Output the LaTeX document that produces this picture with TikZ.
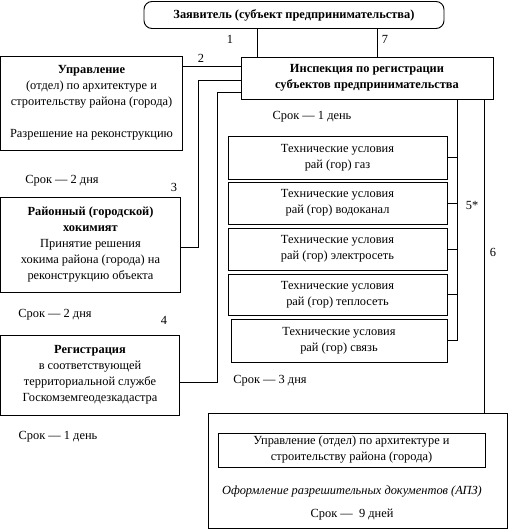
\documentclass[tikz,border=0pt]{standalone}
\usepackage{fontspec}
\setmainfont{Liberation Serif}
\usetikzlibrary{positioning}

\begin{document}
\begin{tikzpicture}[x=0.75pt, y=-0.75pt, line width=0.7pt,
  every node/.style={font=\fontsize{9.3}{12}\selectfont},
  box/.style={draw, align=center, inner sep=0pt},
  tech/.style={box, minimum width=164.25pt, minimum height=31.5pt},
  num/.style={inner sep=1pt}]
\useasboundingbox (0,0) rectangle (508,529);
%
\node[box, rounded corners=6pt, minimum width=225pt, minimum height=20.25pt] (appl) at (294,15)
  {\textbf{Заявитель (субъект предпринимательства)}};
\node[box, minimum width=189pt, minimum height=31.5pt] (insp) at (367,78)
  {\textbf{Инспекция по регистрации}\\ \textbf{субъектов предпринимательства}};
\node[box, minimum width=136.5pt, minimum height=70.5pt] (upr) at (91.5,103)
  {\textbf{Управление}\\ (отдел) по архитектуре и\\ строительству района (города)\\[12pt] Разрешение на реконструкцию};
\node[box, minimum width=135pt, minimum height=71.25pt] (hok) at (90.5,244.5)
  {\textbf{Районный (городской)}\\ \textbf{хокимият}\\ Принятие решения\\ хокима района (города) на\\ реконструкцию объекта};
\node[box, minimum width=134.25pt, minimum height=60pt] (reg) at (90,375)
  {\textbf{Регистрация}\\ в соответствующей\\ территориальной службе\\ Госкомземгеодезкадастра};
%
\node[tech, minimum height=32.25pt] (gas) at (337.5,157.5) {Технические условия\\ рай (гор) газ};
\node[tech] (water) at (337.5,203) {Технические условия\\ рай (гор) водоканал};
\node[tech] (elec) at (337.5,249) {Технические условия\\ рай (гор) электросеть};
\node[tech, minimum height=30.75pt] (heat) at (337.5,294.5) {Технические условия\\ рай (гор) теплосеть};
\node[tech, minimum width=162pt, minimum height=32.25pt] (comm) at (339,340.5) {Технические условия\\ рай (гор) связь};
%
\node[box, minimum width=224.25pt, minimum height=86.25pt] (arch) at (357.5,470.5) {};
\node[box, minimum width=200.25pt, minimum height=25.5pt] (archin) at (351.5,450)
  {Управление (отдел) по архитектуре и\\ строительству района (города)};
\node (apz) at (352,492) {\textit{Оформление разрешительных документов (АПЗ)}};
\node (t9) at (352,515) {Срок —\ \ 9 дней};
%
\node (t1a) at (312,117) {Срок — 1 день};
\node (t2a) at (62,181) {Срок — 2 дня};
\node (t2b) at (55,315) {Срок — 2 дня};
\node (t1b) at (58,437) {Срок — 1 день};
\node (t3) at (270,381) {Срок — 3 дня};
%
\node[num] (n1) at (230,39) {1};
\node[num] (n7) at (385,39) {7};
\node[num] (n2) at (201,58) {2};
\node[num] (n3) at (174,187) {3};
\node[num] (n4) at (164,320) {4};
\node[num] (n5) at (472,205) {5*};
\node[num] (n6) at (493,252) {6};
%
\coordinate (bus) at (457,99);
\coordinate (bend3) at (198,80);
\coordinate (bend4) at (217,92);
%
\draw (appl.south -| 257,0) -- (insp.north -| 257,0);
\draw (appl.south -| 377,0) -- (insp.north -| 377,0);
\draw (upr.east |- 0,66) -- (insp.west |- 0,66);
\draw (insp.west |- bend3) -- (bend3) -- (bend3 |- 0,247) -- (hok.east |- 0,247);
\draw (insp.west |- bend4) -- (bend4) -- (bend4 |- 0,382) -- (reg.east |- 0,382);
\draw (bus) -- (bus |- comm.east);
\foreach \t in {gas,water,elec,heat,comm}
  \draw (\t.east) -- (\t.east -| bus);
\draw (insp.south -| 484,0) -- (arch.north -| 484,0);
%
\end{tikzpicture}
\end{document}
